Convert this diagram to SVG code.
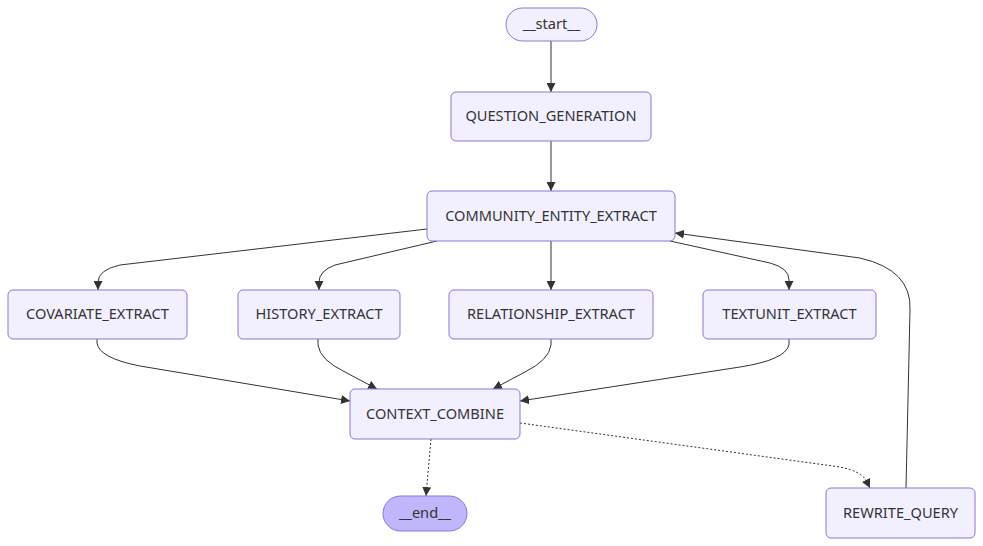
<svg xmlns="http://www.w3.org/2000/svg" width="983" height="546" viewBox="0 0 983 546">
<defs>
<style>
.node rect{fill:#f2f0ff;stroke:#9370DB;stroke-width:1}
.node.end rect{fill:#bfb6fc}
.node text{font-family:"Noto Sans","DejaVu Sans",sans-serif;font-size:14.6px;fill:#333;text-anchor:middle;dominant-baseline:central}
.edge{fill:none;stroke:#333;stroke-width:1}
.dotted{stroke-dasharray:2 2}
</style>
<marker id="arrow" viewBox="0 0 10 10" refX="10" refY="5" markerWidth="9" markerHeight="9" markerUnits="userSpaceOnUse" orient="auto">
<path d="M0,0 L10,5 L0,10 z" fill="#333"/>
</marker>
</defs>
<rect width="983" height="546" fill="#fff"/>
<g id="connectors">
<path class="edge" d="M551,41 L551,92" marker-end="url(#arrow)"/>
<path class="edge" d="M551,141 L551,191" marker-end="url(#arrow)"/>
<path class="edge" d="M427,229 L120,265 Q98,270 98,282 L98,290" marker-end="url(#arrow)"/>
<path class="edge" d="M437,241 L335,265 Q319,271 319,282 L319,290" marker-end="url(#arrow)"/>
<path class="edge" d="M551,241 L551,290" marker-end="url(#arrow)"/>
<path class="edge" d="M670,241 L770,263 Q789,268 789,280 L789,290" marker-end="url(#arrow)"/>
<path class="edge" d="M97,339 L97,343 Q99,358 140,366 L350,401" marker-end="url(#arrow)"/>
<path class="edge" d="M318,339 L318,345 Q320,360 345,372 L377,389" marker-end="url(#arrow)"/>
<path class="edge" d="M551,339 L551,345 Q549,360 525,372 L493,389" marker-end="url(#arrow)"/>
<path class="edge" d="M789,339 L789,345 Q785,360 740,367 L520,401" marker-end="url(#arrow)"/>
<path class="edge dotted" d="M431,439 L426,496" marker-end="url(#arrow)"/>
<path class="edge dotted" d="M520,423 L840,467 Q860,471 866,480 L870,488" marker-end="url(#arrow)"/>
<path class="edge" d="M906,488 L910,310 Q912,270 860,258 L675,233" marker-end="url(#arrow)"/>
</g>
<g id="start" class="node"><rect x="506" y="8" width="91" height="33" rx="16.5"/><text x="551.5" y="23">__start__</text></g>
<g id="QUESTION_GENERATION" class="node"><rect x="451" y="92" width="200" height="49" rx="5"/><text x="551" y="115">QUESTION_GENERATION</text></g>
<g id="COMMUNITY_ENTITY_EXTRACT" class="node"><rect x="427" y="191" width="248" height="50" rx="5"/><text x="551" y="214.5">COMMUNITY_ENTITY_EXTRACT</text></g>
<g id="COVARIATE_EXTRACT" class="node"><rect x="8" y="290" width="179" height="49" rx="5"/><text x="97.5" y="313">COVARIATE_EXTRACT</text></g>
<g id="HISTORY_EXTRACT" class="node"><rect x="238" y="290" width="162" height="49" rx="5"/><text x="319" y="313">HISTORY_EXTRACT</text></g>
<g id="RELATIONSHIP_EXTRACT" class="node"><rect x="449" y="290" width="204" height="49" rx="5"/><text x="551" y="313">RELATIONSHIP_EXTRACT</text></g>
<g id="TEXTUNIT_EXTRACT" class="node"><rect x="703" y="290" width="173" height="49" rx="5"/><text x="789.5" y="313">TEXTUNIT_EXTRACT</text></g>
<g id="CONTEXT_COMBINE" class="node"><rect x="350" y="389" width="170" height="50" rx="5"/><text x="435" y="412.5">CONTEXT_COMBINE</text></g>
<g id="end" class="node end"><rect x="383" y="496" width="84" height="35" rx="17.5"/><text x="425" y="512">__end__</text></g>
<g id="REWRITE_QUERY" class="node"><rect x="826" y="488" width="149" height="50" rx="5"/><text x="900.5" y="511.5">REWRITE_QUERY</text></g>
</svg>
